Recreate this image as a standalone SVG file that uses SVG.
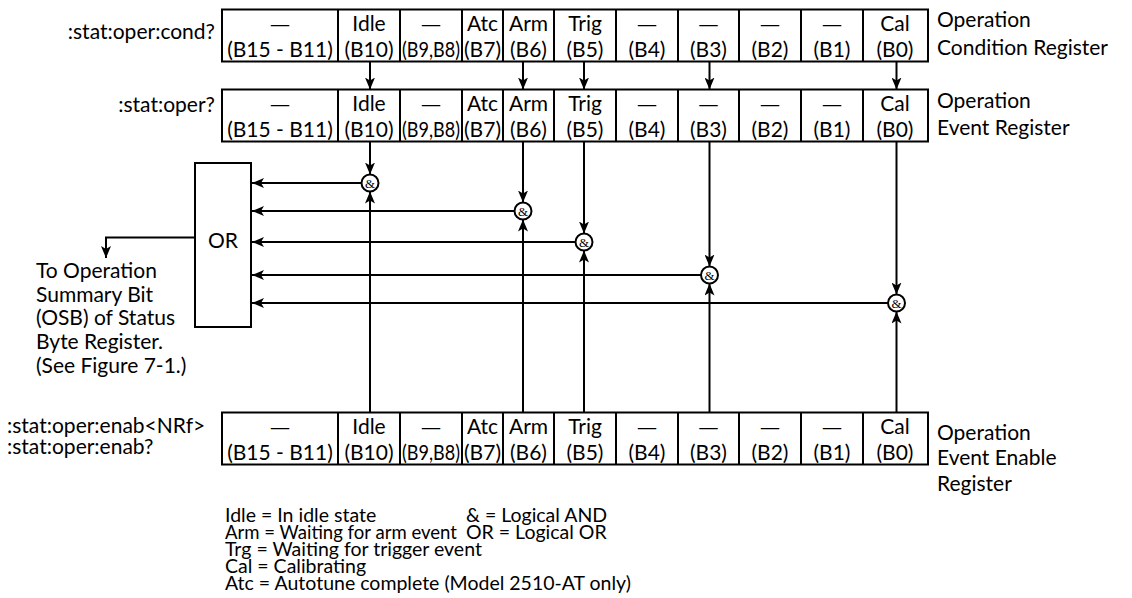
<svg xmlns="http://www.w3.org/2000/svg" width="1132" height="598" viewBox="0 0 1132 598">
<style>
text{font-family:Lato,"Open Sans",sans-serif;fill:#000}
.t{font-size:21px}
.c{font-size:21px;text-anchor:middle}
.r{text-anchor:end}
.box{fill:#fff;stroke:#000;stroke-width:2}
.ln{stroke:#000;stroke-width:2;fill:none}
.amp{font-family:"Liberation Serif",serif;font-size:13px;text-anchor:middle}
.lg{font-size:19.5px}
</style>
<defs>
<marker id="ah" viewBox="0 0 12 10" markerWidth="12" markerHeight="10" refX="12" refY="5" orient="auto" markerUnits="userSpaceOnUse">
<path d="M0,0 L12,5 L0,10 L3,5 z" fill="#000"/>
</marker>
<g id="cells">
<path class="ln" d="M338,0V52M400,0V52M462,0V52M503,0V52M554,0V52M616,0V52M678,0V52M739,0V52M801,0V52M863,0V52"/>
<text class="c" x="280" y="22" textLength="22" lengthAdjust="spacingAndGlyphs">—</text><text class="c" x="280" y="47">(B15 - B11)</text>
<text class="c" x="369" y="21">Idle</text><text class="c" x="369" y="47">(B10)</text>
<text class="c" x="431" y="22" textLength="22" lengthAdjust="spacingAndGlyphs">—</text><text class="c" x="431" y="47" textLength="58" lengthAdjust="spacingAndGlyphs">(B9,B8)</text>
<text class="c" x="482.5" y="21">Atc</text><text class="c" x="482.5" y="47" textLength="37" lengthAdjust="spacingAndGlyphs">(B7)</text>
<text class="c" x="528.5" y="21">Arm</text><text class="c" x="528.5" y="47">(B6)</text>
<text class="c" x="585" y="21">Trig</text><text class="c" x="585" y="47">(B5)</text>
<text class="c" x="647" y="22" textLength="22" lengthAdjust="spacingAndGlyphs">—</text><text class="c" x="647" y="47">(B4)</text>
<text class="c" x="708.5" y="22" textLength="22" lengthAdjust="spacingAndGlyphs">—</text><text class="c" x="708.5" y="47">(B3)</text>
<text class="c" x="770" y="22" textLength="22" lengthAdjust="spacingAndGlyphs">—</text><text class="c" x="770" y="47">(B2)</text>
<text class="c" x="832" y="22" textLength="22" lengthAdjust="spacingAndGlyphs">—</text><text class="c" x="832" y="47">(B1)</text>
<text class="c" x="895" y="21">Cal</text><text class="c" x="895" y="47">(B0)</text>
</g>
</defs>

<g id="cond-register">
<rect class="box" x="222" y="9.5" width="706" height="52"/>
<use href="#cells" transform="translate(0,9.5)"/>
<text class="t r" x="215" y="39">:stat:oper:cond?</text>
<text class="t" x="937" y="27">Operation</text>
<text class="t" x="937" y="55">Condition Register</text>
</g>

<g id="event-register">
<rect class="box" x="222" y="89.5" width="706" height="52"/>
<use href="#cells" transform="translate(0,89.5)"/>
<text class="t r" x="215" y="112">:stat:oper?</text>
<text class="t" x="937" y="108">Operation</text>
<text class="t" x="937" y="135">Event Register</text>
</g>

<g id="enable-register">
<rect class="box" x="222" y="412.5" width="706" height="52"/>
<use href="#cells" transform="translate(0,412.5)"/>
<text class="t" x="7" y="433">:stat:oper:enab&lt;NRf&gt;</text>
<text class="t" x="7" y="454">:stat:oper:enab?</text>
<text class="t" x="937" y="440">Operation</text>
<text class="t" x="937" y="465">Event Enable</text>
<text class="t" x="937" y="491">Register</text>
</g>

<g id="or-gate">
<rect class="box" x="195" y="163" width="56" height="164"/>
<text class="t" x="223" y="248" text-anchor="middle">OR</text>
</g>

<g id="and-1"><circle class="box" cx="370" cy="183" r="8.5"/><text class="amp" x="370" y="187.5">&amp;</text></g>
<g id="and-2"><circle class="box" cx="523" cy="211" r="8.5"/><text class="amp" x="523" y="215.5">&amp;</text></g>
<g id="and-3"><circle class="box" cx="584" cy="242" r="8.5"/><text class="amp" x="584" y="246.5">&amp;</text></g>
<g id="and-4"><circle class="box" cx="709.5" cy="275" r="8.5"/><text class="amp" x="709.5" y="279.5">&amp;</text></g>
<g id="and-5"><circle class="box" cx="896.5" cy="303" r="8.5"/><text class="amp" x="896.5" y="307.5">&amp;</text></g>

<g id="connectors">
<path class="ln" marker-end="url(#ah)" d="M370,61.5V89.5"/>
<path class="ln" marker-end="url(#ah)" d="M523,61.5V89.5"/>
<path class="ln" marker-end="url(#ah)" d="M584,61.5V89.5"/>
<path class="ln" marker-end="url(#ah)" d="M709.5,61.5V89.5"/>
<path class="ln" marker-end="url(#ah)" d="M896.5,61.5V89.5"/>
<path class="ln" marker-end="url(#ah)" d="M370,141.5V174.5"/>
<path class="ln" marker-end="url(#ah)" d="M523,141.5V202.5"/>
<path class="ln" marker-end="url(#ah)" d="M584,141.5V233.5"/>
<path class="ln" marker-end="url(#ah)" d="M709.5,141.5V266.5"/>
<path class="ln" marker-end="url(#ah)" d="M896.5,141.5V294.5"/>
<path class="ln" marker-end="url(#ah)" d="M370,412.5V191.5"/>
<path class="ln" marker-end="url(#ah)" d="M523,412.5V219.5"/>
<path class="ln" marker-end="url(#ah)" d="M584,412.5V250.5"/>
<path class="ln" marker-end="url(#ah)" d="M709.5,412.5V283.5"/>
<path class="ln" marker-end="url(#ah)" d="M896.5,412.5V311.5"/>
<path class="ln" marker-end="url(#ah)" d="M361.5,183H252"/>
<path class="ln" marker-end="url(#ah)" d="M514.5,211H252"/>
<path class="ln" marker-end="url(#ah)" d="M575.5,242H252"/>
<path class="ln" marker-end="url(#ah)" d="M701,275H252"/>
<path class="ln" marker-end="url(#ah)" d="M888,303H252"/>
<path class="ln" marker-end="url(#ah)" d="M195,237.5H106V258"/>
</g>

<g id="note">
<text class="t" x="36" y="278">To Operation</text>
<text class="t" x="36" y="301.7">Summary Bit</text>
<text class="t" x="36" y="325.4">(OSB) of Status</text>
<text class="t" x="36" y="349">Byte Register.</text>
<text class="t" x="36" y="372.5">(See Figure 7-1.)</text>
</g>

<g id="legend">
<text class="lg" x="225" y="522">Idle = In idle state</text>
<text class="lg" x="225" y="539" textLength="232" lengthAdjust="spacingAndGlyphs">Arm = Waiting for arm event</text>
<text class="lg" x="225" y="556">Trg = Waiting for trigger event</text>
<text class="lg" x="225" y="573">Cal = Calibrating</text>
<text class="lg" x="225" y="590">Atc = Autotune complete (Model 2510-AT only)</text>
<text class="lg" x="466" y="522">&amp; = Logical AND</text>
<text class="lg" x="466" y="539">OR = Logical OR</text>
</g>
</svg>
